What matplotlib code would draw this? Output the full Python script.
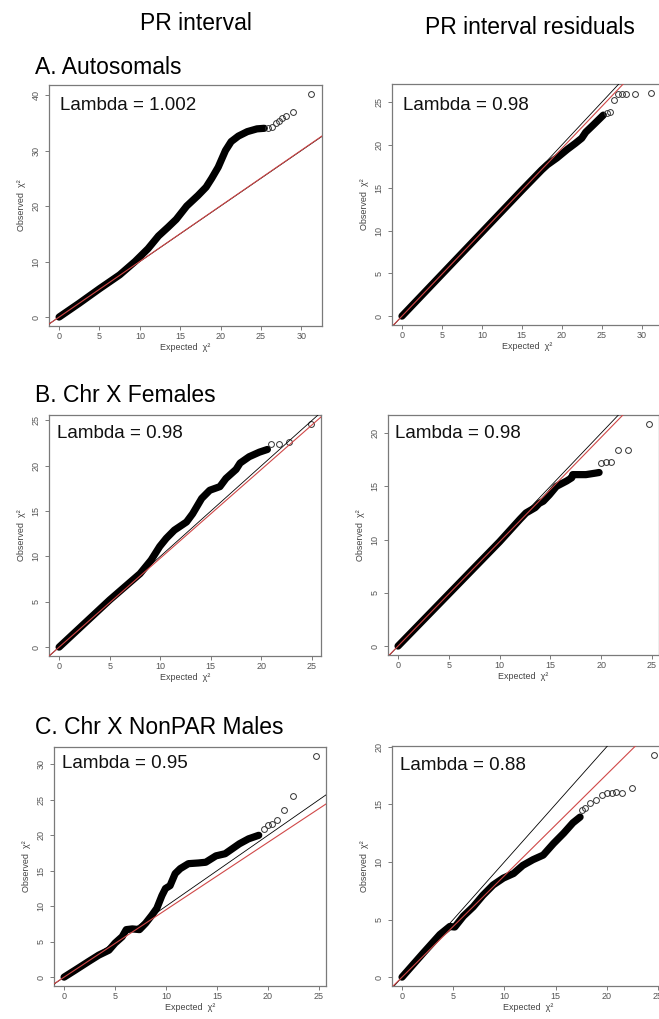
import matplotlib
matplotlib.use('Agg')
import matplotlib.pyplot as plt

W, H = 659, 1019

plt.rcParams['font.family'] = ['Liberation Sans', 'DejaVu Sans']

col_titles = ['PR interval', 'PR interval residuals']
row_titles = ['A. Autosomals', 'B. Chr X Females', 'C. Chr X NonPAR Males']

# lambda for every panel (row by row, left then right)
lambdas = [1.002, 0.98, 0.98, 0.98, 0.95, 0.88]
lambda_labels = ['1.002', '0.98', '0.98', '0.98', '0.95', '0.88']

# A. autosomals, PR interval
a_pr_exp = [0, 2.5, 5, 7.5, 9.4, 11, 12.3, 13.5, 14.5, 15.8, 17.2, 18.2, 18.9, 19.7, 20.6, 21.3, 22.2, 23.3, 24.5, 25.4]
a_pr_obs = [0, 2.5, 5.1, 7.6, 10.0, 12.3, 14.6, 16.2, 17.6, 20.0, 21.9, 23.4, 25.0, 27.0, 30.0, 31.6, 32.6, 33.4, 33.9, 34.0]
a_pr_tail_exp = [25.9, 26.35, 26.8, 27.2, 27.6, 28.1, 29.0, 31.2]
a_pr_tail_obs = [34.0, 34.3, 34.9, 35.4, 35.9, 36.2, 37.0, 40.2]

# A. autosomals, residuals
a_res_exp = [0, 5, 10, 15, 17.5, 18.2, 19.4, 20.7, 21.7, 22.5, 23.0, 24.0, 25.2]
a_res_obs = [0, 4.9, 9.8, 14.7, 17.1, 17.7, 18.5, 19.5, 20.2, 20.8, 21.5, 22.4, 23.5]
a_res_tail_exp = [25.7, 26.1, 26.5, 27.1, 27.6, 28.1, 29.2, 31.2]
a_res_tail_obs = [23.7, 23.9, 25.3, 26.0, 26.0, 26.0, 26.0, 26.1]

# B. chr X females, PR interval
b_pr_exp = [0, 5, 8, 9.1, 9.95, 10.6, 11.4, 12.6, 13.2, 14.1, 14.9, 15.9, 16.5, 17.5, 17.9, 18.8, 19.8, 20.6]
b_pr_obs = [0, 5.2, 8.1, 9.6, 11.1, 12.0, 12.9, 13.8, 14.7, 16.4, 17.3, 17.7, 18.6, 19.6, 20.3, 21.0, 21.5, 21.8]
b_pr_tail_exp = [21.0, 21.7, 22.7, 24.9]
b_pr_tail_obs = [22.4, 22.4, 22.6, 24.6]

# B. chr X females, residuals
b_res_exp = [0, 5, 10, 12, 12.6, 13.5, 13.9, 14.3, 14.9, 15.6, 16.2, 16.6, 17.1, 17.2, 18.5, 19.5, 19.8]
b_res_obs = [0, 4.9, 9.8, 11.9, 12.5, 13.0, 13.4, 13.6, 14.2, 15.0, 15.3, 15.5, 15.8, 16.1, 16.1, 16.25, 16.3]
b_res_tail_exp = [20.0, 20.5, 21.0, 21.65, 22.6, 24.7]
b_res_tail_obs = [17.2, 17.25, 17.25, 18.4, 18.4, 20.9]

# C. chr X nonPAR males, PR interval
c_pr_exp = [0, 1.1, 2.4, 3.4, 4.4, 5.0, 5.7, 6.1, 6.7, 7.4, 8.0, 8.6, 9.1, 9.6, 9.95, 10.4, 10.9, 11.4,
            12.2, 13.2, 13.9, 14.9, 15.8, 16.5, 17.2, 18.1, 19.1]
c_pr_obs = [0, 1.0, 2.2, 3.1, 3.8, 4.8, 5.7, 6.7, 6.8, 6.7, 7.6, 8.7, 9.7, 11.5, 12.5, 12.9, 14.6, 15.3,
            16.0, 16.1, 16.2, 17.1, 17.4, 18.1, 18.8, 19.5, 20.0]
c_pr_tail_exp = [19.6, 20.0, 20.4, 20.9, 21.6, 22.5, 24.7]
c_pr_tail_obs = [20.9, 21.5, 21.6, 22.1, 23.6, 25.6, 31.2]

# C. chr X nonPAR males, residuals
c_res_exp = [0, 2.06, 3.7, 4.67, 5.15, 6.0, 6.95, 7.9, 8.9, 9.9, 10.9, 11.8, 12.8, 13.8, 14.8, 15.8, 16.7, 17.4]
c_res_obs = [0, 2.08, 3.7, 4.4, 4.35, 5.3, 6.1, 7.1, 8.0, 8.6, 9.0, 9.7, 10.2, 10.6, 11.6, 12.5, 13.4, 13.9]
c_res_tail_exp = [17.55, 17.9, 18.4, 19.0, 19.5, 20.0, 20.5, 20.9, 21.5, 22.5, 24.6]
c_res_tail_obs = [14.5, 14.7, 15.1, 15.4, 15.8, 16.0, 16.0, 16.1, 16.0, 16.4, 19.3]

panels = [
    (a_pr_exp, a_pr_obs, a_pr_tail_exp, a_pr_tail_obs),
    (a_res_exp, a_res_obs, a_res_tail_exp, a_res_tail_obs),
    (b_pr_exp, b_pr_obs, b_pr_tail_exp, b_pr_tail_obs),
    (b_res_exp, b_res_obs, b_res_tail_exp, b_res_tail_obs),
    (c_pr_exp, c_pr_obs, c_pr_tail_exp, c_pr_tail_obs),
    (c_res_exp, c_res_obs, c_res_tail_exp, c_res_tail_obs),
]

# layout, in pixels: box (left, top, right, bottom), axis limits, tick steps, lambda text pos
boxes = [(49, 85, 322, 326), (392, 84, 662, 325),
         (49, 415, 321, 656), (388, 415, 659, 655),
         (54, 747, 326, 986), (392, 746, 664, 986)]
xlims = [(-1.25, 32.55), (-1.25, 32.55), (-1.0, 25.9), (-0.99, 25.7), (-0.99, 25.7), (-0.98, 25.6)]
ylims = [(-1.61, 41.8), (-1.04, 27.14), (-0.98, 25.6), (-0.84, 21.7), (-1.25, 32.45), (-0.77, 20.07)]
xticks = [range(0, 31, 5), range(0, 31, 5), range(0, 26, 5), range(0, 26, 5), range(0, 26, 5), range(0, 26, 5)]
yticks = [range(0, 41, 10), range(0, 26, 5), range(0, 26, 5), range(0, 21, 5), range(0, 31, 5), range(0, 21, 5)]
lam_pos = [(60, 105), (403, 106), (57, 434), (395, 433), (62, 763), (400, 765)]

grey = '#7a7a7a'
red = '#d04848'

fig = plt.figure(figsize=(W / 100, H / 100), dpi=100)

for i, (ex, ob, tex, tob) in enumerate(panels):
    l, t, r, b = boxes[i]
    ax = fig.add_axes([l / W, 1 - b / H, (r - l) / W, (b - t) / H])
    ax.plot(ex, ob, color='black', lw=5.2, solid_capstyle='round', solid_joinstyle='round', zorder=2)
    ax.plot(tex, tob, 'o', mfc='none', mec='#333333', ms=4.2, mew=0.7, zorder=2)
    ax.axline((0, 0), slope=1, color='black', lw=0.6, zorder=3)
    ax.axline((0, 0), slope=lambdas[i], color=red, lw=0.8, zorder=4)
    ax.set_xlim(*xlims[i])
    ax.set_ylim(*ylims[i])
    ax.set_xticks(list(xticks[i]))
    ax.set_yticks(list(yticks[i]))
    for s in ax.spines.values():
        s.set_color(grey)
        s.set_linewidth(0.9)
    ax.tick_params(colors=grey, labelcolor='#555555', labelsize=6.5, length=3, width=0.7)
    ax.tick_params(axis='x', pad=1.5)
    ax.tick_params(axis='y', pad=3)
    for lab in ax.get_yticklabels():
        lab.set_rotation(90)
        lab.set_va('center')
    ax.set_xlabel('Expected  χ²', fontsize=6.5, color='#444444', labelpad=1.5)
    ax.set_ylabel('Observed  χ²', fontsize=6.5, color='#444444', labelpad=4)
    lx, ly = lam_pos[i]
    fig.text(lx / W, 1 - ly / H, 'Lambda = ' + lambda_labels[i], fontsize=13.5,
             ha='left', va='center', color='#111111')

fig.text(196 / W, 1 - 24 / H, col_titles[0], fontsize=16.5, ha='center', va='center')
fig.text(530 / W, 1 - 27 / H, col_titles[1], fontsize=16.5, ha='center', va='center')
for k, ty in enumerate([68, 395, 727]):
    fig.text(35 / W, 1 - ty / H, row_titles[k], fontsize=16.5, ha='left', va='center')

fig.savefig('out.png', dpi=100)
